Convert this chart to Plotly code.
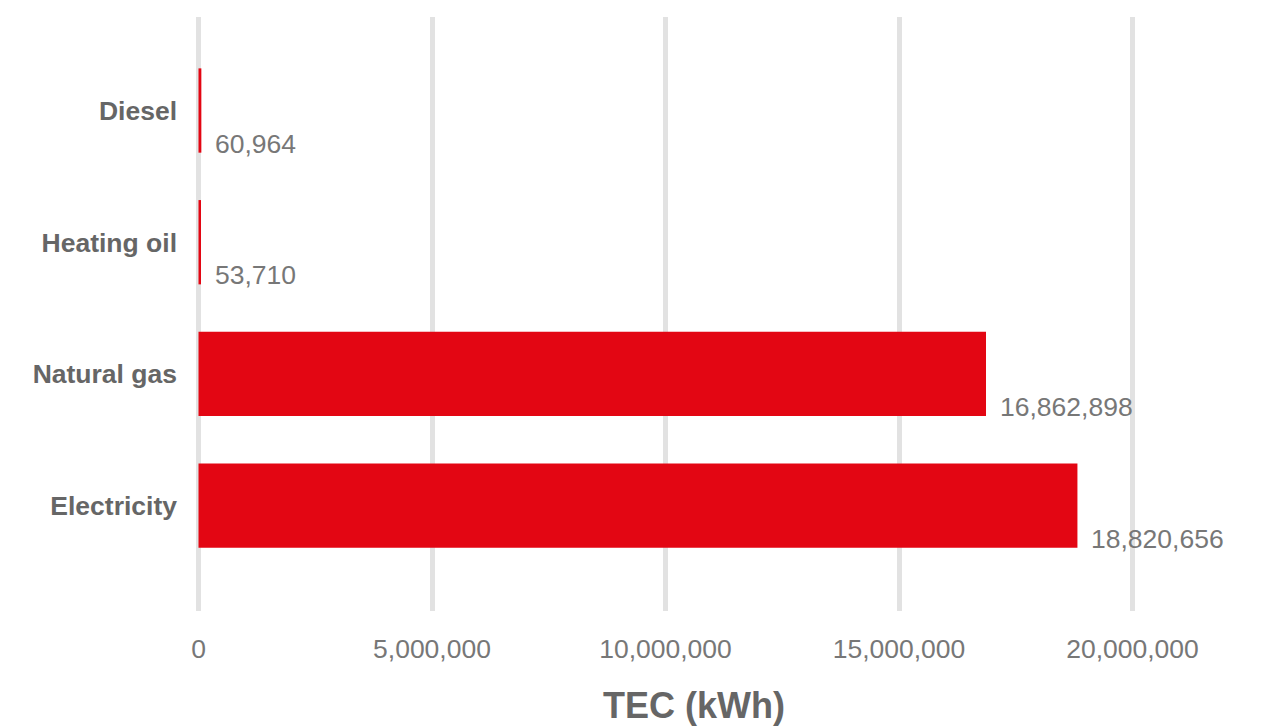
import plotly.graph_objects as go

categories = ["Electricity", "Natural gas", "Heating oil", "Diesel"]
values = [18820656, 16862898, 53710, 60964]
tick_vals = [0, 5000000, 10000000, 15000000, 20000000]
axis_title = "TEC (kWh)"

BAR = "#e30613"
GRID = "#e2e2e2"
FONT = "Liberation Sans, Arial, Helvetica, sans-serif"

fig = go.Figure(go.Bar(
    x=values, y=categories, orientation="h",
    marker=dict(color=BAR, line=dict(width=0)),
    hoverinfo="skip",
))

for c, v in zip(categories, values):
    fig.add_annotation(
        x=v, y=c, text=f"{v:,}", showarrow=False,
        xanchor="left", yanchor="middle", xshift=12, yshift=-33,
        font=dict(family=FONT, size=26.5, color="#777777"),
    )

fig.update_layout(
    width=1261, height=727,
    margin=dict(l=184, r=57, t=17, b=116),
    plot_bgcolor="white", paper_bgcolor="white",
    bargap=0.36, showlegend=False,
    font=dict(family=FONT),
)
fig.update_xaxes(
    range=[-310500, 21531000],
    tickvals=tick_vals, tickformat=",",
    showgrid=True, gridcolor=GRID, gridwidth=5,
    zeroline=False, showline=False, ticks="",
    tickfont=dict(family=FONT, size=26.5, color="#777777"),
    ticklabelstandoff=19, automargin=False,
    title=dict(text="<b>" + axis_title + "</b>", font=dict(family=FONT, size=36, color="#666666"), standoff=30),
)
fig.update_yaxes(
    range=[-0.8, 3.71], categoryorder="array", categoryarray=categories,
    showgrid=False, zeroline=False, showline=False, ticks="",
    tickfont=dict(family=FONT, size=26.5, color="#666666", weight="bold"),
    ticklabelstandoff=6, automargin=False,
)

fig.write_html("out.html")
